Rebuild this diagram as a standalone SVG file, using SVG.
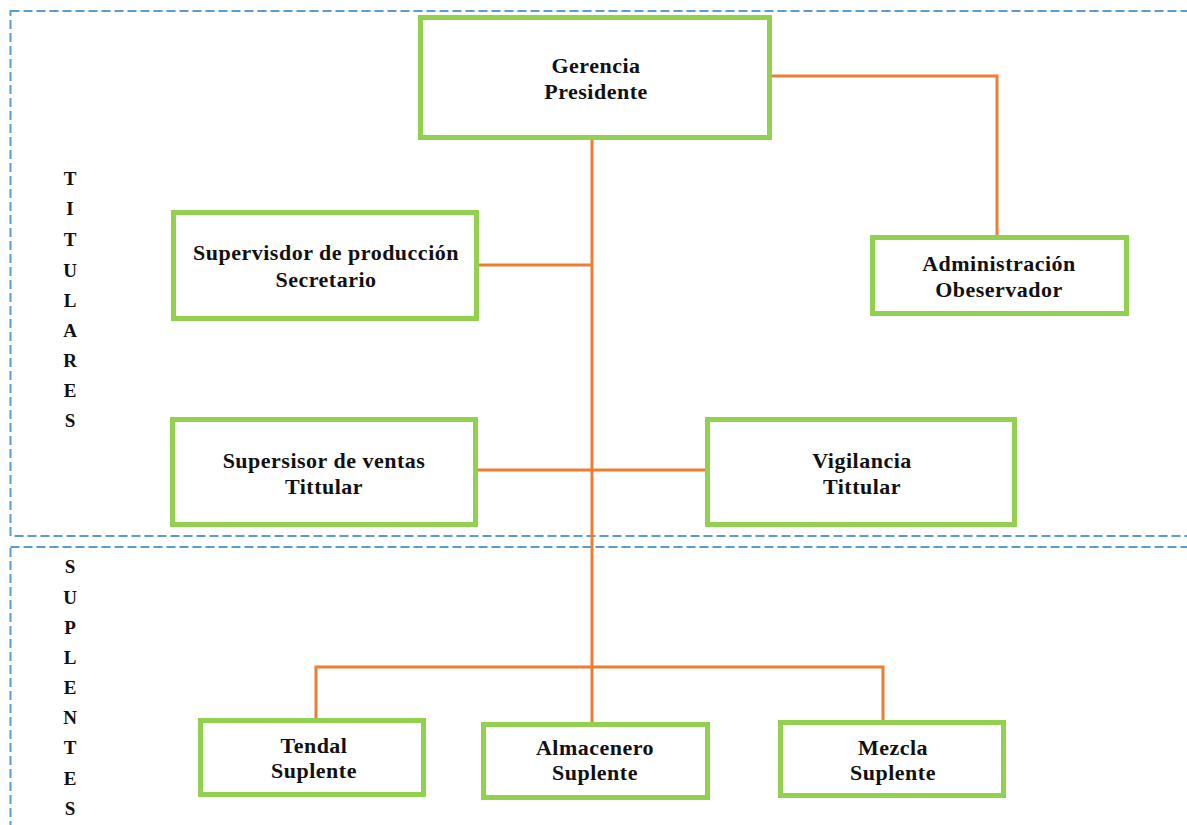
<svg xmlns="http://www.w3.org/2000/svg" width="1187" height="825" viewBox="0 0 1187 825">
<style>
.zone{fill:none;stroke:#5B9BD5;stroke-width:2;stroke-dasharray:9 4}
.box{fill:#fff;stroke:#92D050;stroke-width:5}
.con{fill:none;stroke:#ED7D31;stroke-width:3}
text{font-family:"Liberation Serif","Times New Roman",serif;font-weight:bold;fill:#111}
.lbl{font-size:22px;text-anchor:middle;letter-spacing:0.5px}
.side{font-size:19px;text-anchor:middle}
</style>
<rect width="1187" height="825" fill="#fff"/>
<g id="zones">
<rect class="zone" x="10.5" y="11" width="1200" height="525"/>
<rect class="zone" x="10.5" y="547" width="1200" height="300"/>
</g>
<g id="side-labels">
<text class="side" x="70" y="185">T</text>
<text class="side" x="70" y="215">I</text>
<text class="side" x="70" y="246">T</text>
<text class="side" x="70" y="277">U</text>
<text class="side" x="70" y="307">L</text>
<text class="side" x="70" y="337">A</text>
<text class="side" x="70" y="367">R</text>
<text class="side" x="70" y="397">E</text>
<text class="side" x="70" y="427">S</text>
<text class="side" x="70" y="573">S</text>
<text class="side" x="70" y="604">U</text>
<text class="side" x="70" y="634">P</text>
<text class="side" x="70" y="664">L</text>
<text class="side" x="70" y="694">E</text>
<text class="side" x="70" y="724">N</text>
<text class="side" x="70" y="754">T</text>
<text class="side" x="70" y="785">E</text>
<text class="side" x="70" y="815">S</text>
</g>
<g id="connectors">
<polyline class="con" points="772,76 997,76 997,235"/>
<line class="con" x1="592" y1="140" x2="592" y2="722"/>
<line class="con" x1="479" y1="265" x2="592" y2="265"/>
<line class="con" x1="478" y1="470" x2="705" y2="470"/>
<polyline class="con" points="316,718 316,667 883,667 883,720"/>
</g>
<g id="gerencia">
<rect class="box" x="420.5" y="17.5" width="349" height="120"/>
<text class="lbl" x="596" y="73">Gerencia</text>
<text class="lbl" x="596" y="99">Presidente</text>
</g>
<g id="supervisor-produccion">
<rect class="box" x="173.5" y="212.5" width="303" height="106"/>
<text class="lbl" x="326" y="260">Supervisdor  de producción</text>
<text class="lbl" x="326" y="287">Secretario</text>
</g>
<g id="administracion">
<rect class="box" x="872.5" y="237.5" width="254" height="76"/>
<text class="lbl" x="999" y="271">Administración</text>
<text class="lbl" x="999" y="297">Obeservador</text>
</g>
<g id="supervisor-ventas">
<rect class="box" x="172.5" y="419.5" width="303" height="105"/>
<text class="lbl" x="324" y="468">Supersisor de ventas</text>
<text class="lbl" x="324" y="494">Tittular</text>
</g>
<g id="vigilancia">
<rect class="box" x="707.5" y="419.5" width="307" height="105"/>
<text class="lbl" x="862" y="468">Vigilancia</text>
<text class="lbl" x="862" y="494">Tittular</text>
</g>
<g id="tendal">
<rect class="box" x="200.5" y="720.5" width="223" height="74"/>
<text class="lbl" x="314" y="753">Tendal</text>
<text class="lbl" x="314" y="778">Suplente</text>
</g>
<g id="almacenero">
<rect class="box" x="483.5" y="724.5" width="224" height="73"/>
<text class="lbl" x="595" y="755">Almacenero</text>
<text class="lbl" x="595" y="780">Suplente</text>
</g>
<g id="mezcla">
<rect class="box" x="780.5" y="722.5" width="223" height="73"/>
<text class="lbl" x="893" y="755">Mezcla</text>
<text class="lbl" x="893" y="780">Suplente</text>
</g>
</svg>
